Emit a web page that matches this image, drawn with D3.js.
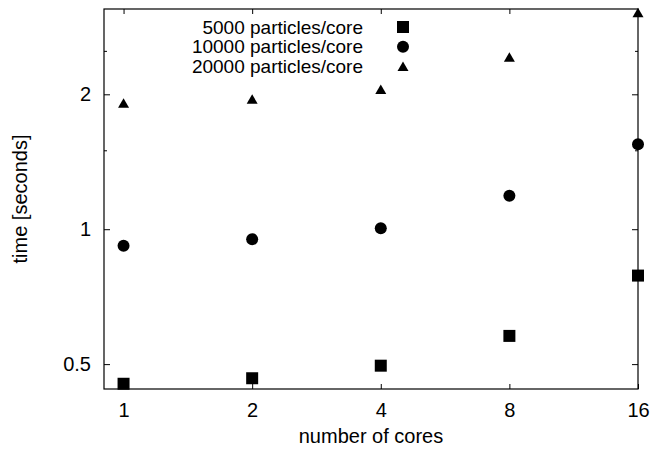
<!DOCTYPE html>
<html>
<head>
<meta charset="utf-8">
<script src="https://cdn.jsdelivr.net/npm/d3@7"></script>
<style>
  html, body { margin: 0; padding: 0; background: #fff; }
  svg { display: block; }
  text { font-family: "Liberation Sans", Arial, Helvetica, sans-serif; fill: #000; }
</style>
</head>
<body>
<svg id="chart" width="659" height="452"></svg>
<script>
const cores = [1, 2, 4, 8, 16];
const t5000 = [0.452, 0.465, 0.496, 0.578, 0.788];
const t10000 = [0.919, 0.950, 1.005, 1.188, 1.547];
const t20000 = [1.91, 1.95, 2.05, 2.42, 3.04];
const seriesNames = ["5000 particles/core", "10000 particles/core", "20000 particles/core"];
const seriesShapes = ["square", "circle", "triangle"];
const xTickValues = [1, 2, 4, 8, 16];
const yTickValues = [0.5, 1, 2];
const yTickLabels = ["0.5", "1", "2"];
const yMinorTickValues = [1.5, 2.5];

(function () {
const mLeft = 104, mRight = 638, mTop = 9, mBottom = 389;
const fontSize = 20, legendFontSize = 19;

const svg = d3.select("#chart");
const x = d3.scaleLog().base(2).domain([0.9, 16]).range([mLeft, mRight]);
const y = d3.scaleLog().base(2).domain([0.44, 3.1]).range([mBottom, mTop]);

function markerPath(shape) {
  if (shape === "square") return "M-6,-6H6V6H-6Z";
  if (shape === "circle") return d3.symbol(d3.symbolCircle, Math.PI * 36)();
  return "M0,-5L5.5,4.5H-5.5Z";
}

const gx = svg.append("g").attr("transform", `translate(0,${mBottom})`)
  .call(d3.axisBottom(x).tickValues(xTickValues).tickFormat(d3.format("d")).tickSizeInner(-5).tickSizeOuter(0).tickPadding(14));
const gxt = svg.append("g").attr("transform", `translate(0,${mTop})`)
  .call(d3.axisTop(x).tickValues(xTickValues).tickFormat("").tickSizeInner(-5).tickSizeOuter(0));
const gy = svg.append("g").attr("transform", `translate(${mLeft},0)`)
  .call(d3.axisLeft(y).tickValues(yTickValues).tickFormat((d, i) => yTickLabels[i]).tickSizeInner(-6).tickSizeOuter(0).tickPadding(13));
const gym = svg.append("g").attr("transform", `translate(${mLeft},0)`)
  .call(d3.axisLeft(y).tickValues(yMinorTickValues).tickFormat("").tickSizeInner(-3).tickSizeOuter(0));
const gyr = svg.append("g").attr("transform", `translate(${mRight},0)`)
  .call(d3.axisRight(y).tickValues(yTickValues).tickFormat("").tickSizeInner(-6).tickSizeOuter(0));
const gyrm = svg.append("g").attr("transform", `translate(${mRight},0)`)
  .call(d3.axisRight(y).tickValues(yMinorTickValues).tickFormat("").tickSizeInner(-3).tickSizeOuter(0));

[gx, gxt, gy, gym, gyr, gyrm].forEach(g => {
  g.select(".domain").remove();
  g.selectAll(".tick line").attr("stroke", "#000").attr("stroke-width", 1);
  g.selectAll(".tick text").style("font-size", fontSize + "px")
    .style("font-family", '"Liberation Sans", Arial, sans-serif').attr("fill", "#000");
});

svg.append("rect").attr("x", mLeft).attr("y", mTop)
  .attr("width", mRight - mLeft).attr("height", mBottom - mTop)
  .attr("fill", "none").attr("stroke", "#000").attr("stroke-width", 1.2);

const allSeries = [t5000, t10000, t20000];
allSeries.forEach((vals, si) => {
  svg.append("g").selectAll("path").data(vals).join("path")
    .attr("d", markerPath(seriesShapes[si]))
    .attr("transform", (d, i) => `translate(${x(cores[i])},${y(d)})`)
    .attr("fill", "#000");
});

const legX = 363, legSymX = 403, legY0 = 27, legDy = 19.7;
seriesNames.forEach((name, i) => {
  svg.append("text").attr("x", legX).attr("y", legY0 + i * legDy)
    .attr("dy", "0.35em").attr("text-anchor", "end")
    .style("font-size", legendFontSize + "px").text(name);
  svg.append("path").attr("d", markerPath(seriesShapes[i]))
    .attr("transform", `translate(${legSymX},${legY0 + i * legDy})`)
    .attr("fill", "#000");
});

svg.append("text").attr("x", (mLeft + mRight) / 2).attr("y", 443)
  .attr("text-anchor", "middle").style("font-size", fontSize + "px")
  .text("number of cores");
svg.append("text").attr("transform", `translate(27,${(mTop + mBottom) / 2}) rotate(-90)`)
  .attr("text-anchor", "middle").style("font-size", fontSize + "px")
  .text("time [seconds]");
})();
</script>
</body>
</html>
